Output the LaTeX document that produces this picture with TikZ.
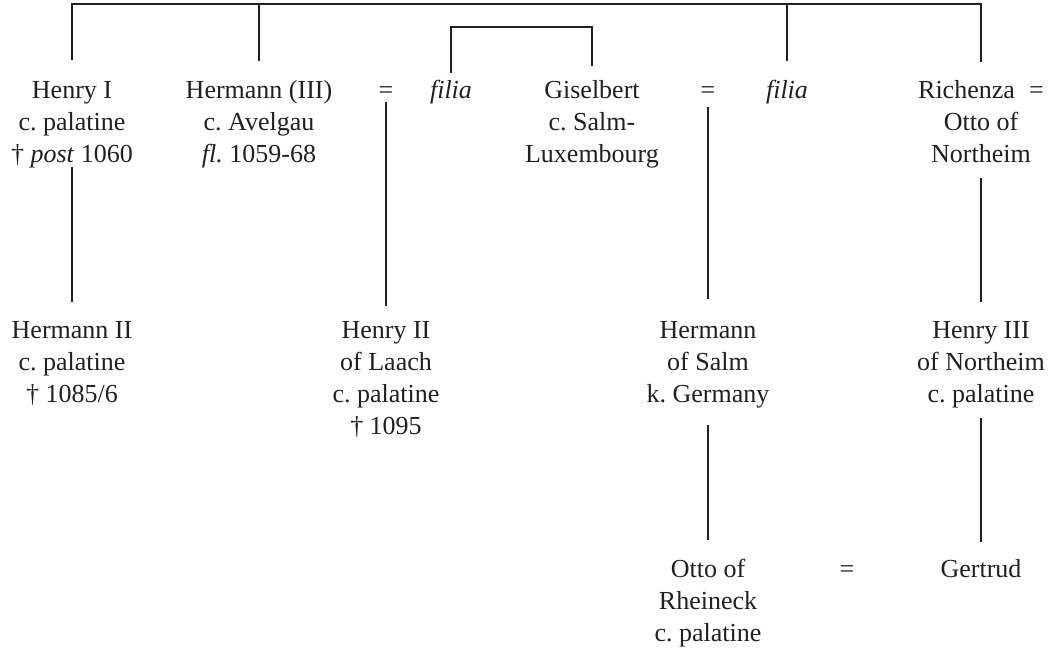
\documentclass[tikz,border=0pt]{standalone}
\usepackage{fontspec}
\setmainfont{Liberation Serif}
\frenchspacing
\definecolor{ink}{HTML}{231F20}
\begin{document}
\begin{tikzpicture}[x=1pt,y=-1pt,
  person/.style={align=center, anchor=north, inner sep=0pt, text=ink,
                 font=\fontsize{26}{32}\selectfont},
  wed/.style={anchor=base, inner sep=0pt, text=ink,
              font=\fontsize{26}{32}\selectfont},
  line/.style={draw=ink, line width=2pt}]
\useasboundingbox (0,0) rectangle (1053,648);

% first generation
\node[person] (hen1) at (72,75.6)  {\strut Henry I\\c. palatine\\† \emph{post} 1060};
\node[person] (her3) at (259,75.6) {\strut Hermann (III)\\c. Avelgau\\\emph{fl.} 1059-68};
\node[wed]    (eqA)  at (386,98)   {=};
\node[person] (fil1) at (451,75.6) {\strut\emph{filia}};
\node[person] (gis)  at (592,75.6) {\strut Giselbert\\c. Salm-\\Luxembourg};
\node[wed]    (eqB)  at (708,98)   {=};
\node[person] (fil2) at (787,75.6) {\strut\emph{filia}};
\node[person] (rich) at (981,75.6) {\strut Richenza\hspace{0.55em}=\\Otto of\\Northeim};

% second generation
\node[person] (her2)  at (72,315.6)  {\strut Hermann II\\c. palatine\\† 1085/6};
\node[person] (hen2)  at (386,315.6) {\strut Henry II\\of Laach\\c. palatine\\† 1095};
\node[person] (hsalm) at (708,315.6) {\strut Hermann\\of Salm\\k. Germany};
\node[person] (hen3)  at (981,315.6) {\strut Henry III\\of Northeim\\c. palatine};

% third generation
\node[person] (otto) at (708,554.6) {\strut Otto of\\Rheineck\\c. palatine};
\node[wed]    (eqC)  at (847,577)   {=};
\node[person] (gert) at (981,554.6) {\strut Gertrud};

% sibling bar over the first generation
\coordinate (bar) at (0,4);
\draw[line] ([yshift=16pt]hen1.north) -- (hen1.north |- bar)
            -- (rich.north |- bar) -- ([yshift=14pt]rich.north);
\draw[line] ([yshift=15pt]her3.north) -- (her3.north |- bar);
\draw[line] ([yshift=15pt]fil2.north) -- (fil2.north |- bar);

% sisters bracket
\coordinate (brk) at (0,27);
\draw[line] ([yshift=3pt]fil1.north) -- (fil1.north |- brk)
            -- (gis.north |- brk) -- ([yshift=10pt]gis.north);

% descent lines
\draw[line] ([yshift=-4pt]eqA.base) -- ([yshift=10pt]hen2.north);
\draw[line] ([yshift=-9pt]eqB.base) -- ([yshift=17pt]hsalm.north);
\draw[line] ([yshift=-91.4pt]hen1.north) -- ([yshift=13.6pt]her2.north);
\draw[line] ([yshift=-102.4pt]rich.north) -- ([yshift=13.6pt]hen3.north);
\draw[line] ([yshift=-109.4pt]hsalm.north) -- ([yshift=14.6pt]otto.north);
\draw[line] ([yshift=-102.4pt]hen3.north) -- ([yshift=12.6pt]gert.north);
\end{tikzpicture}
\end{document}
